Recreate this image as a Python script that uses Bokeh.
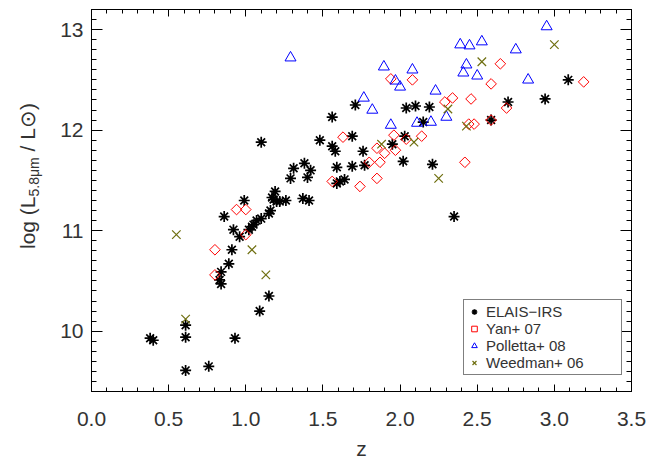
import numpy as np
from bokeh.plotting import figure
from bokeh.layouts import row
from bokeh.models import (LinearAxis, SingleIntervalTicker, PrintfTickFormatter, Div,
                          Legend, LegendItem, Range1d)
from bokeh.embed import file_html
from bokeh.resources import INLINE

# ---- data ----
elais_z = [0.38, 0.40, 0.61, 0.61, 0.61, 0.76, 0.93, 0.83, 0.84, 0.84, 0.89, 0.91, 0.92, 0.86,
           0.96, 0.99, 1.02, 1.04, 1.05, 1.07, 1.10, 1.15, 1.09, 1.15, 1.10, 1.16, 1.19, 1.17,
           1.20, 1.18, 1.22, 1.26, 1.31, 1.38, 1.42, 1.29, 1.40, 1.37, 1.41, 1.48, 1.56, 1.56,
           1.58, 1.59, 1.59, 1.61, 1.64, 1.69, 1.69, 1.71, 1.76, 1.77, 1.95, 2.02, 2.03, 2.04,
           2.10, 2.19, 2.15, 2.21, 2.35, 2.59, 2.70, 2.94, 3.09]
elais_L = [9.93, 9.91, 10.06, 9.94, 9.61, 9.65, 9.93, 10.51, 10.47, 10.59, 10.67, 10.81, 11.01, 11.14,
           10.94, 11.30, 11.01, 11.04, 11.06, 11.10, 11.12, 11.17, 10.20, 10.35, 11.88, 11.20, 11.39, 11.33,
           11.29, 11.31, 11.29, 11.30, 11.62, 11.67, 11.60, 11.52, 11.53, 11.32, 11.30, 11.90, 12.13, 11.84,
           11.79, 11.63, 11.47, 11.49, 11.51, 11.94, 11.64, 12.25, 11.79, 11.65, 11.86, 11.69, 11.94, 12.22,
           12.24, 12.23, 12.08, 11.66, 11.14, 12.10, 12.28, 12.31, 12.50]

yan_z = [0.94, 1.00, 1.00, 0.80, 0.80, 1.63, 1.56, 1.74, 1.85, 1.80, 1.87, 1.90, 1.85, 1.96, 1.97,
         2.04, 2.14, 1.94, 2.08, 2.29, 2.34, 2.46, 2.59, 2.65, 2.69, 2.59, 2.445, 2.48, 2.42, 3.19]
yan_L = [11.21, 11.21, 10.96, 10.81, 10.56, 11.93, 11.49, 11.44, 11.52, 11.68, 11.68, 11.77, 11.82, 11.95, 11.80,
         11.91, 11.94, 12.51, 12.50, 12.28, 12.32, 12.31, 12.46, 12.66, 12.22, 12.10, 12.06, 12.06, 11.68, 12.48]

pol_z = [1.29, 1.765, 1.82, 1.895, 1.97, 2.00, 2.08, 1.94, 2.11, 2.20, 2.23, 2.30, 2.39, 2.45, 2.53,
         2.43, 2.41, 2.50, 2.75, 2.83, 2.95]
pol_L = [12.72, 12.32, 12.20, 12.63, 12.49, 12.43, 12.60, 12.05, 12.07, 12.08, 12.39, 12.13, 12.85, 12.84, 12.88,
         12.65, 12.57, 12.54, 12.80, 12.50, 13.03]

wee_z = [0.55, 0.61, 1.04, 1.13, 1.88, 2.09, 2.31, 2.25, 2.43, 2.53, 3.00]
wee_L = [10.96, 10.12, 10.81, 10.56, 11.86, 11.88, 12.21, 11.52, 12.04, 12.68, 12.85]

legend_labels = ["ELAIS\u2212IRS", "Yan+ 07", "Polletta+ 08", "Weedman+ 06"]

x_ticks_interval = 0.5
y_ticks_interval = 1.0

FONT = "Liberation Sans"
TXT = "#333333"

DIV_W = 46

p = figure(width=657 - DIV_W, height=462, output_backend="svg", toolbar_location=None,
           x_range=Range1d(0, 3.5), y_range=Range1d(9.4, 13.2),
           x_axis_type=None, y_axis_type=None,
           min_border_left=91 - DIV_W, min_border_right=26, min_border_top=9, min_border_bottom=68)
p.grid.visible = False
p.outline_line_color = "black"
p.outline_line_width = 1
p.background_fill_color = "white"
p.border_fill_color = "white"


def make_axis(kind, labels):
    if kind == "x":
        ticker = SingleIntervalTicker(interval=x_ticks_interval, num_minor_ticks=5)
    else:
        ticker = SingleIntervalTicker(interval=y_ticks_interval, num_minor_ticks=10)
    ax = LinearAxis(ticker=ticker)
    ax.major_tick_out = 0
    ax.minor_tick_out = 0
    if kind == "x":
        ax.major_tick_in = 7
        ax.minor_tick_in = 4
        ax.formatter = PrintfTickFormatter(format="%.1f")
    else:
        ax.major_tick_in = 11
        ax.minor_tick_in = 5
    ax.axis_line_color = "black"
    ax.major_tick_line_color = "black"
    ax.minor_tick_line_color = "black"
    if labels:
        ax.major_label_text_font = FONT
        ax.major_label_text_font_size = "21px"
        ax.major_label_text_color = TXT
    else:
        ax.major_label_text_color = None
        ax.major_label_standoff = 0
    return ax


bottom = make_axis("x", True)
bottom.major_label_standoff = 20
bottom.axis_label = "z"
bottom.axis_label_text_font = FONT
bottom.axis_label_text_font_size = "21px"
bottom.axis_label_text_font_style = "normal"
bottom.axis_label_text_color = TXT
bottom.axis_label_standoff = 8
p.add_layout(bottom, "below")

left = make_axis("y", True)
left.major_label_standoff = 8
p.add_layout(left, "left")

p.add_layout(make_axis("x", False), "above")
p.add_layout(make_axis("y", False), "right")

r1 = p.scatter(elais_z, elais_L, marker="asterisk", size=11, line_color="black", line_width=1.7)
r2 = p.scatter(yan_z, yan_L, marker="square", angle=np.pi / 4, size=7.5, fill_color=None,
               line_color="#ff0000", line_width=1)
r3 = p.scatter(pol_z, pol_L, marker="triangle", size=11, fill_color=None,
               line_color="#0000ff", line_width=1)
r4 = p.scatter(wee_z, wee_L, marker="x", size=12, line_color="#6f6f10", line_width=1.2)

legend = Legend(items=[LegendItem(label=lab, renderers=[r])
                       for lab, r in zip(legend_labels, [r1, r2, r3, r4])],
                location=(372, 16))
legend.label_text_font = FONT
legend.label_text_font_size = "15px"
legend.label_text_color = TXT
legend.label_height = 15
legend.label_width = 132
legend.glyph_height = 15
legend.glyph_width = 14
legend.spacing = 0
legend.padding = 3
legend.margin = 0
legend.label_standoff = 5
legend.border_line_color = "black"
legend.border_line_width = 1
legend.background_fill_alpha = 1
p.add_layout(legend, "center")

# rotated y-axis title with a real subscript
ylabel_html = (
    '<div style="position:relative;width:%dpx;height:462px;overflow:hidden;">'
    '<div style="position:absolute;left:16px;top:249px;transform-origin:0 0;'
    'transform:rotate(-90deg);white-space:nowrap;line-height:24px;'
    "font-family:'Liberation Sans';font-size:21px;color:%s;\">"
    'log (L<sub style="font-size:14px;vertical-align:-4px;line-height:0;">5.8\u03bcm</sub> / L\u2299)'
    '</div></div>' % (DIV_W, TXT)
)
ylab = Div(text=ylabel_html, width=DIV_W, height=462, margin=0)

layout = row(ylab, p, spacing=0)

open("out.html", "w").write(file_html(layout, INLINE))
